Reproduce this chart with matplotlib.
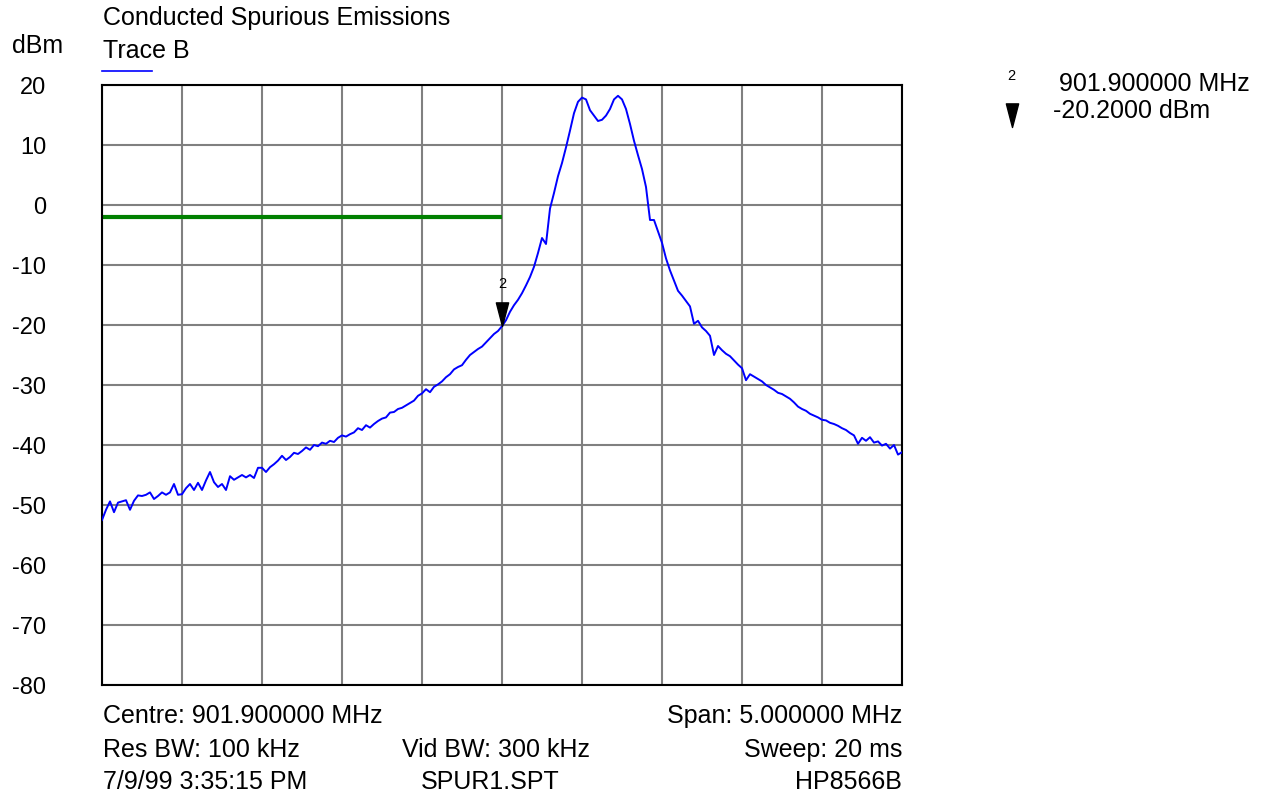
import numpy as np
import matplotlib
matplotlib.use("Agg")
import matplotlib.pyplot as plt
from matplotlib.lines import Line2D
from matplotlib.path import Path

plt.rcParams['font.family'] = ['Liberation Sans', 'DejaVu Sans']

# Sweep settings
centre_mhz = 901.9
span_mhz = 5.0

# Trace B levels (dBm), one per sweep point from start to stop frequency
level = [
    -52.5, -50.8, -49.4, -51.2, -49.6, -49.4, -49.2, -50.8, -49.3, -48.4,
    -48.5, -48.3, -47.9, -49.0, -48.5, -47.9, -48.3, -47.9, -46.5, -48.3,
    -48.2, -47.2, -46.5, -47.5, -46.3, -47.5, -45.9, -44.5, -46.2, -47.0,
    -46.5, -47.5, -45.2, -45.8, -45.4, -45.0, -45.4, -45.0, -45.5, -43.8,
    -43.8, -44.5, -43.7, -43.2, -42.6, -41.8, -42.5, -42.0, -41.3, -41.5,
    -41.0, -40.4, -40.8, -40.0, -40.2, -39.6, -39.8, -39.3, -39.5, -38.8,
    -38.4, -38.6, -38.2, -37.9, -37.2, -37.5, -36.7, -37.1, -36.5, -36.0,
    -35.6, -35.4, -34.6, -34.5, -34.0, -33.8, -33.4, -33.0, -32.6, -31.8,
    -31.4, -30.7, -31.2, -30.3, -29.9, -29.4, -28.7, -28.2, -27.4, -27.0,
    -26.7, -25.8, -25.0, -24.5, -24.0, -23.6, -22.9, -22.2, -21.5, -21.0,
    -20.2, -19.2, -17.8, -16.7, -15.8, -14.7, -13.4, -12.0, -10.3, -8.0,
    -5.5, -6.5, -0.6, 2.0, 4.8, 7.0, 9.6, 12.4, 15.3, 17.2,
    17.9, 17.6, 15.8, 14.9, 14.0, 14.2, 14.9, 16.0, 17.6, 18.2,
    17.6, 16.0, 13.5, 10.7, 8.3, 6.0, 3.0, -2.5, -2.5, -4.4,
    -6.3, -8.9, -10.9, -12.6, -14.3, -15.1, -16.0, -16.9, -19.8, -19.3,
    -20.4, -21.0, -21.8, -25.0, -23.5, -24.2, -24.8, -25.2, -25.9, -26.6,
    -27.2, -29.2, -28.2, -28.6, -29.0, -29.4, -30.0, -30.4, -30.8, -31.3,
    -31.5, -31.9, -32.3, -32.9, -33.6, -34.0, -34.3, -34.8, -35.1, -35.4,
    -35.8, -35.9, -36.3, -36.5, -36.8, -37.2, -37.5, -38.0, -38.4, -39.8,
    -38.8, -39.3, -38.7, -39.6, -39.4, -40.1, -39.8, -40.6, -40.0, -41.6,
    -41.2,
]

# Limit line
limit_dbm = -2.0
limit_stop_mhz = 901.9

# Marker 2
marker_mhz = 901.9
marker_dbm = -20.2

y_ticks = list(range(-80, 21, 10))

footer_left = ["Centre: 901.900000 MHz", "Res BW: 100 kHz", "7/9/99 3:35:15 PM"]
footer_mid = ["", "Vid BW: 300 kHz", "SPUR1.SPT"]
footer_right = ["Span: 5.000000 MHz", "Sweep: 20 ms", "HP8566B"]

FS = 18

W, H = 1264, 799
fig = plt.figure(figsize=(W / 100, H / 100), dpi=100)


def fx(px):
    return px / W


def fy(py):
    return 1 - py / H


ax = fig.add_axes([fx(102), fy(685), 800 / W, 600 / H])

f_start = centre_mhz - span_mhz / 2
f_stop = centre_mhz + span_mhz / 2
freq = np.linspace(f_start, f_stop, len(level))

ax.plot(freq, level, color='#0000ff', lw=1.4, zorder=3)
ax.plot([f_start, limit_stop_mhz], [limit_dbm, limit_dbm], color='#008000',
        lw=3.0, solid_capstyle='butt', zorder=2, clip_on=False)

# marker triangle with its tip on the trace point
tip = Path([(-0.26, 1.0), (0.26, 1.0), (0.0, 0.0), (-0.26, 1.0)],
           [Path.MOVETO, Path.LINETO, Path.LINETO, Path.CLOSEPOLY])
ax.plot([marker_mhz], [marker_dbm], marker=tip, markersize=34,
        color='black', mec='black', ls='none', zorder=4)
ax.annotate("2", (marker_mhz, marker_dbm), xytext=(0, 42),
            textcoords='offset pixels', ha='center', va='center',
            fontsize=10.5, zorder=4)

ax.set_xlim(f_start, f_stop)
ax.set_ylim(-80, 20)
ax.set_xticks(np.linspace(f_start, f_stop, 11))
ax.set_xticklabels([])
ax.set_yticks(y_ticks)
ax.set_yticklabels([str(t) for t in y_ticks], ha='right', fontsize=17)
ax.tick_params(axis='both', length=0)
ax.tick_params(axis='y', pad=40)
ax.grid(True, color='#808080', lw=1.5)
ax.set_axisbelow(True)
for s in ax.spines.values():
    s.set_color('black')
    s.set_linewidth(1.5)

# header
fig.text(fx(103), fy(18), "Conducted Spurious Emissions", fontsize=FS,
         ha='left', va='center')
fig.text(fx(12), fy(46), "dBm", fontsize=FS, ha='left', va='center')
fig.text(fx(103), fy(51), "Trace B", fontsize=FS, ha='left', va='center')
fig.add_artist(Line2D([fx(102), fx(152)], [fy(71), fy(71)],
                      color='#0000ff', lw=1.2))

# marker readout
fig.text(fx(1011), fy(76), "2", fontsize=10.5, ha='center', va='center')
fig.add_artist(Line2D([fx(1012)], [fy(127)], marker=tip, markersize=34,
                      color='black', ls='none'))
fig.text(fx(1059), fy(84), "901.900000 MHz", fontsize=FS, ha='left', va='center')
fig.text(fx(1053), fy(111), "-20.2000 dBm", fontsize=FS, ha='left', va='center')

# footer
rows_y = [716, 750, 782]
mid_x = [491, 496, 490]
for yy, xm, l, m, r in zip(rows_y, mid_x, footer_left, footer_mid, footer_right):
    fig.text(fx(103), fy(yy), l, fontsize=FS, ha='left', va='center')
    if m:
        fig.text(fx(xm), fy(yy), m, fontsize=FS, ha='center', va='center')
    fig.text(fx(902), fy(yy), r, fontsize=FS, ha='right', va='center')

fig.savefig("out.png", dpi=100)
